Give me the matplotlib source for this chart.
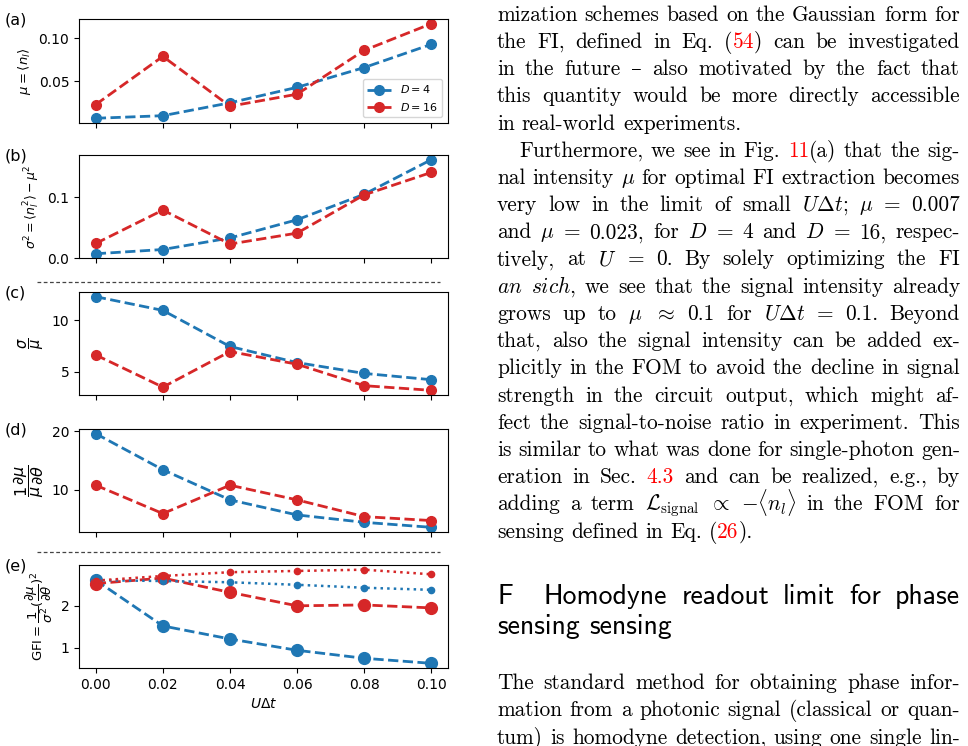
import re
import matplotlib
matplotlib.use('Agg')
import matplotlib.pyplot as plt
from matplotlib.lines import Line2D

W, H = 968, 746

# ---------------- data ----------------
u_dt = [0.00, 0.02, 0.04, 0.06, 0.08, 0.10]
x_ticklabels = ['0.00', '0.02', '0.04', '0.06', '0.08', '0.10']
series_labels = ['$D = 4$', '$D = 16$']

mu_D4 = [0.007, 0.010, 0.025, 0.043, 0.066, 0.093]
mu_D16 = [0.023, 0.079, 0.021, 0.035, 0.086, 0.117]
var_D4 = [0.007, 0.014, 0.033, 0.063, 0.105, 0.162]
var_D16 = [0.024, 0.079, 0.023, 0.041, 0.104, 0.141]
snr_D4 = [12.27, 10.94, 7.44, 5.88, 4.83, 4.22]
snr_D16 = [6.62, 3.50, 6.95, 5.72, 3.64, 3.19]
dlog_D4 = [19.6, 13.4, 8.22, 5.63, 4.36, 3.50]
dlog_D16 = [10.74, 5.86, 10.74, 8.22, 5.34, 4.66]
gfi_D4 = [2.61, 1.52, 1.21, 0.94, 0.75, 0.63]
gfi_D16 = [2.53, 2.66, 2.32, 2.00, 2.02, 1.95]
fi_D4 = [2.61, 2.59, 2.56, 2.50, 2.43, 2.38]
fi_D16 = [2.60, 2.71, 2.80, 2.83, 2.86, 2.75]

yticks_a = [0.05, 0.10]
yticks_b = [0.0, 0.1]
yticks_c = [5, 10]
yticks_d = [10, 20]
yticks_e = [1, 2]

ylabels = [r'$\mu = \langle n_l \rangle$',
           r'$\sigma^2 = \langle n_l^2 \rangle - \mu^2$',
           r'$\dfrac{\sigma}{\mu}$',
           r'$\dfrac{1}{\mu}\dfrac{\partial\mu}{\partial\theta}$',
           r'$\mathrm{GFI} = \dfrac{1}{\sigma^2}(\dfrac{\partial\mu}{\partial\theta})^2$']
ylabel_sizes = [9.5, 9.0, 10.5, 11.5, 9.5]
panel_tags = ['(a)', '(b)', '(c)', '(d)', '(e)']
xlabel = r'$U\Delta t$'

BLUE = '#1f77b4'
REDL = '#d62728'
REDT = '#ff0000'

fig = plt.figure(figsize=(W / 100, H / 100), dpi=100)


def px_axes(l, t, r, b):
    return fig.add_axes([l / W, 1 - b / H, (r - l) / W, (b - t) / H])


rects = [(79, 19, 448, 123), (79, 155, 448, 258), (79, 292, 448, 395),
         (79, 429, 448, 532), (79, 565, 448, 668)]
axs = [px_axes(*r) for r in rects]

pairs = [(mu_D4, mu_D16), (var_D4, var_D16), (snr_D4, snr_D16),
         (dlog_D4, dlog_D16), (gfi_D4, gfi_D16)]
yticks_all = [yticks_a, yticks_b, yticks_c, yticks_d, yticks_e]

for i, ax in enumerate(axs):
    b, r = pairs[i]
    ms = 8.5 if i == 4 else 7
    ax.plot(u_dt, b, ls='--', lw=2, marker='o', ms=ms, color=BLUE, label=series_labels[0])
    ax.plot(u_dt, r, ls='--', lw=2, marker='o', ms=ms, color=REDL, label=series_labels[1])
    ax.set_xticks(u_dt)
    ax.set_yticks(yticks_all[i])
    ax.tick_params(labelsize=10)
    if i < 4:
        ax.tick_params(labelbottom=False)
    ax.set_ylabel(ylabels[i], fontsize=ylabel_sizes[i])
    l, t, rr, bb = rects[i]
    fig.text(5 / W, 1 - (t + 1) / H, panel_tags[i], fontsize=11.5, va='center', ha='left')

axs[1].set_ylim(bottom=0)
axs[4].plot(u_dt, fi_D4, ls=':', lw=1.8, marker='o', ms=4.5, color=BLUE)
axs[4].plot(u_dt, fi_D16, ls=':', lw=1.8, marker='o', ms=4.5, color=REDL)
axs[4].set_xticklabels(x_ticklabels)
axs[4].set_xlabel(xlabel, fontsize=10)
axs[0].legend(loc='lower right', fontsize=8, handlelength=2.2)

for yy in (282, 552):
    fig.add_artist(Line2D([37 / W, 440 / W], [1 - yy / H, 1 - yy / H], transform=fig.transFigure,
                          color='#444444', lw=0.9, ls=(0, (3, 2))))

# ---------------- right-hand text ----------------
para1 = [
    "mization schemes based on the Gaussian form for",
    "the FI, defined in Eq. ([[54]]) can be investigated",
    "in the future \u2013 also motivated by the fact that",
    "this quantity would be more directly accessible",
    "in real-world experiments.",
]
para2 = [
    "Furthermore, we see in Fig. [[11]](a) that the sig-",
    r"nal intensity $\mu$ for optimal FI extraction becomes",
    r"very low in the limit of small $U\Delta{t}$; $\mu$ = 0.007",
    r"and $\mu$ = 0.023, for $D$ = 4 and $D$ = 16, respec-",
    r"tively, at $U$ = 0. By solely optimizing the FI",
    r"$\mathit{an}$ $\mathit{sich}$, we see that the signal intensity already",
    r"grows up to $\mu$ $\approx$ 0.1 for $U\Delta{t}$ = 0.1. Beyond",
    "that, also the signal intensity can be added ex-",
    "plicitly in the FOM to avoid the decline in signal",
    "strength in the circuit output, which might af-",
    "fect the signal-to-noise ratio in experiment. This",
    "is similar to what was done for single-photon gen-",
    "eration in Sec. [[4.3]] and can be realized, e.g., by",
    r"adding a term $\mathcal{L}_{\mathrm{signal}}$ $\propto$ $-\langle{n_l}\rangle$ in the FOM for",
    "sensing defined in Eq. ([[26]]).",
]
heading1_tag = "F"
heading1 = "Homodyne readout limit for phase"
heading2 = "sensing sensing"
para3 = [
    "The standard method for obtaining phase infor-",
    "mation from a photonic signal (classical or quan-",
    "tum) is homodyne detection, using one single lin-",
]

BODY = ['cmr10', 'DejaVu Serif']
SANS = ['cmss10', 'DejaVu Sans']
BODY_SIZE = 15.4
HEAD_SIZE = 20

entries = []


def parse_word(w):
    segs = []
    for part in re.split(r'(\[\[.*?\]\])', w):
        if not part:
            continue
        if part.startswith('[['):
            segs.append((part[2:-2], REDT))
        else:
            segs.append((part, 'black'))
    return segs


def add_par(lines, y0, dy, x0, x1, size, family, indent=0, last_just=False):
    for i, ln in enumerate(lines):
        words = [parse_word(w) for w in ln.split(' ') if w]
        just = (i < len(lines) - 1) or last_just
        entries.append(dict(words=words, y=y0 + i * dy, x0=x0 + (indent if i == 0 else 0),
                            x1=x1, just=just, size=size, family=family))


X0, X1 = 497, 960
DY = 27.2
add_par(para1, 20.7, DY, X0, X1, BODY_SIZE, BODY)
add_par(para2, 20.7 + 5 * DY, DY, X0, X1, BODY_SIZE, BODY, indent=22)
add_par([heading1_tag], 604, 0, X0, X1, HEAD_SIZE, SANS)
add_par([heading1], 604, 0, 544, X1, HEAD_SIZE, SANS, last_just=True)
add_par([heading2], 634, 0, X0, X1, HEAD_SIZE, SANS)
add_par(para3, 689, 27.5, X0, X1, BODY_SIZE, BODY, last_just=True)

for e in entries:
    e['arts'] = []
    for w in e['words']:
        wa = []
        for s, c in w:
            t = fig.text(0, 1 - e['y'] / H, s, color=c, fontsize=e['size'], family=e['family'],
                         math_fontfamily='cm', va='baseline', ha='left')
            wa.append(t)
        e['arts'].append(wa)

fig.canvas.draw()
rend = fig.canvas.get_renderer()
for e in entries:
    widths = [[t.get_window_extent(rend).width for t in wa] for wa in e['arts']]
    wsum = sum(sum(ws) for ws in widths)
    n = len(widths)
    space = e['size'] * 100 / 72 * 0.333
    if e['just'] and n > 1:
        gap = (e['x1'] - e['x0'] - wsum) / (n - 1)
    else:
        gap = space
    x = e['x0']
    for wa, ws in zip(e['arts'], widths):
        for t, wd in zip(wa, ws):
            t.set_x(x / W)
            x += wd
        x += gap

fig.savefig('out.png', dpi=100, facecolor='white')
